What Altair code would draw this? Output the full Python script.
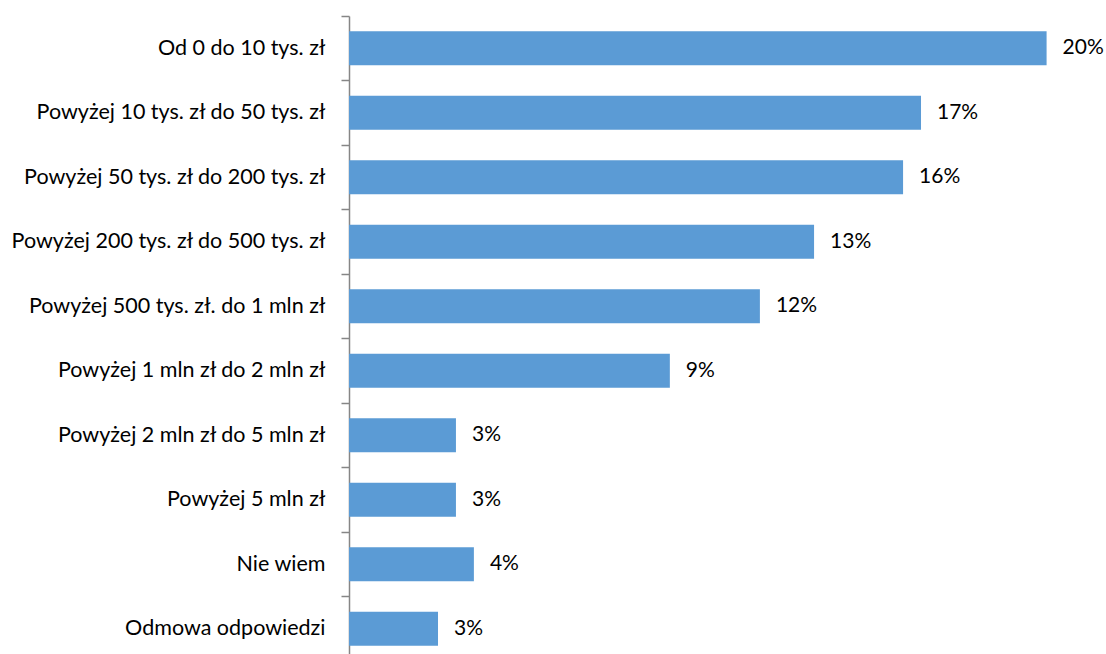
import altair as alt
import pandas as pd

categories = [
    "Od 0 do 10 tys. zł",
    "Powyżej 10 tys. zł do 50 tys. zł",
    "Powyżej 50 tys. zł do 200 tys. zł",
    "Powyżej 200 tys. zł do 500 tys. zł",
    "Powyżej 500 tys. zł. do 1 mln zł",
    "Powyżej 1 mln zł do 2 mln zł",
    "Powyżej 2 mln zł do 5 mln zł",
    "Powyżej 5 mln zł",
    "Nie wiem",
    "Odmowa odpowiedzi",
]
values = [20.22, 16.58, 16.06, 13.48, 11.91, 9.3, 3.1, 3.1, 3.62, 2.58]
labels = ["20%", "17%", "16%", "13%", "12%", "9%", "3%", "3%", "4%", "3%"]

df = pd.DataFrame({"cat": categories, "val": values, "lab": labels})

FONT = "Lato"

y = alt.Y(
    "cat:N",
    sort=categories,
    title=None,
    scale=alt.Scale(paddingInner=0.47, paddingOuter=0.1807, align=0.65),
    axis=alt.Axis(
        domainColor="#868686",
        domainWidth=1.5,
        tickColor="#868686",
        tickWidth=1.5,
        tickSize=8,
        tickOffset=-32.25,
        labelOffset=32.25,
        labelPadding=16,
        labelFont=FONT,
        labelFontSize=21.5,
        labelColor="#000000",
        labelLimit=400,
    ),
)
x = alt.X(
    "val:Q",
    title=None,
    scale=alt.Scale(domain=[0, 21], nice=False),
    axis=None,
)

bars = alt.Chart(df).mark_bar(color="#5B9BD5").encode(x=x, y=y)
text = alt.Chart(df).mark_text(
    align="left", baseline="middle", dx=16, font=FONT, fontSize=21, color="#000000"
).encode(x=x, y=y, text="lab:N")

chart = (
    (bars + text)
    .properties(
        width=724.5,
        height=638,
        padding={"left": 349, "top": 16, "right": 32.5, "bottom": 0},
        autosize=alt.AutoSizeParams(type="none"),
        background="white",
    )
    .configure_view(strokeWidth=0, stroke=None)
)

chart.save("out.html", embed_options={"renderer": "svg", "actions": False})
